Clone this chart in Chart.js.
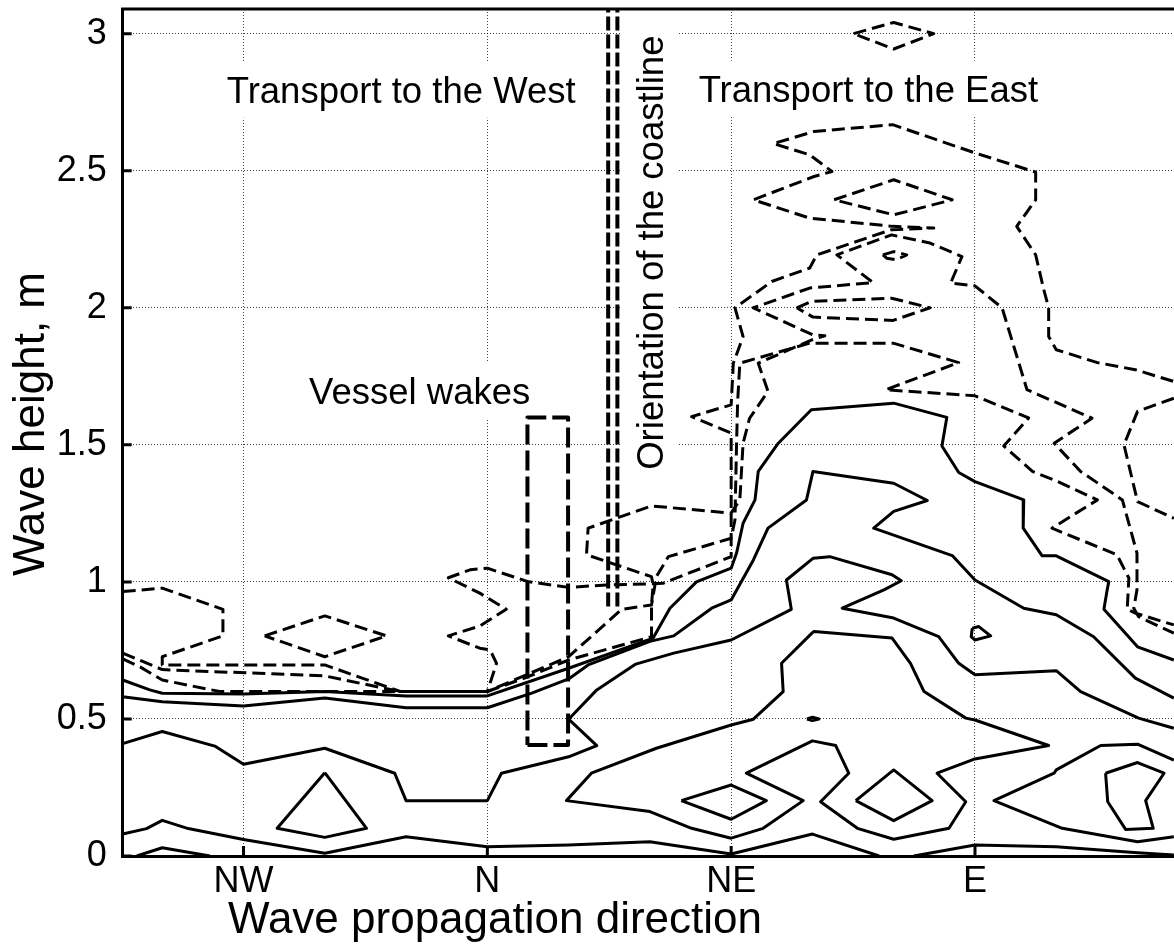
<!DOCTYPE html>
<html>
<head>
<meta charset="utf-8">
<title>Wave height vs propagation direction</title>
<script src="https://cdn.jsdelivr.net/npm/chart.js@4.4.1/dist/chart.umd.min.js"></script>
<style>
  html, body { margin: 0; padding: 0; background: #fff; overflow: hidden; }
  #wrap { position: absolute; left: 0; top: 0; width: 1240px; height: 945px; }
</style>
</head>
<body>
<div id="wrap"><canvas id="contours" width="1240" height="945"></canvas></div>
<script>
// Axes: direction in degrees (0 = N), wave height in metres
var xTickValues = [-45, 0, 45, 90];
var xTickLabels = ['NW', 'N', 'NE', 'E'];
var yTickValues = [0, 0.5, 1, 1.5, 2, 2.5, 3];
var yTickLabels = ['0', '0.5', '1', '1.5', '2', '2.5', '3'];

// Solid contours  [direction, height]
var solidBottomWest = [[-64.7, 0], [-60, 0.03], [-51.2, 0]];
var solidLowest = [[-67.3, 0.08], [-62.9, 0.10], [-60, 0.13], [-55.2, 0.10], [-45, 0.06], [-30, 0.01],
    [-15, 0.07], [0, 0.034], [15, 0.04], [30, 0.052], [45, 0.007], [60, 0.08], [72.3, 0]];
var solidLowestEast = [[78.7, 0], [90, 0.04], [105, 0.034], [120, 0.012], [126.7, 0.004]];
var solidSecond = [[-67.3, 0.41], [-60, 0.454], [-50.3, 0.401], [-45, 0.335], [-30, 0.393], [-17.1, 0.302],
    [-15, 0.202], [0, 0.202], [2.6, 0.302], [15, 0.362], [20.2, 0.403], [15, 0.499], [20.2, 0.606],
    [27.4, 0.70], [34.4, 0.74], [45, 0.788], [56.1, 0.90], [55.2, 1.007], [60.1, 1.086], [63.2, 1.092],
    [74.7, 1.026], [76.4, 1.004], [73.2, 0.971], [65.5, 0.904], [75, 0.868], [83.3, 0.80], [87, 0.703],
    [90, 0.661], [105, 0.676], [109.5, 0.60], [120.2, 0.503], [126.7, 0.466]];
var solidUpper = [[-67.3, 0.642], [-62.3, 0.606], [-60, 0.594], [-45, 0.591], [-30, 0.60], [-15, 0.584],
    [0, 0.584], [15, 0.685], [30.6, 0.795], [33.7, 0.904], [38.6, 1.0], [45, 1.05], [46, 1.105],
    [47.2, 1.214], [49.4, 1.299], [50, 1.403], [53.7, 1.506], [59.8, 1.628], [75, 1.652], [84.8, 1.600],
    [83.9, 1.496], [87, 1.399], [90, 1.366], [99, 1.299], [98.9, 1.196], [102.4, 1.095], [105, 1.095],
    [114.7, 1.001], [114.4, 0.971], [113.8, 0.90], [120, 0.763], [126.7, 0.715]];
var solidMiddle = [[-67.3, 0.581], [-60, 0.563], [-45, 0.547], [-30, 0.576], [-15, 0.541], [0, 0.541],
    [8.2, 0.594], [15, 0.646], [18.6, 0.697], [30, 0.783], [34.4, 0.803], [41.4, 0.904], [45, 0.934],
    [49.1, 1.080], [51.8, 1.196], [58.9, 1.299], [60.1, 1.403], [75, 1.360], [81.2, 1.297], [75, 1.257],
    [71.3, 1.196], [85.8, 1.096], [90, 1.007], [99, 0.904], [105, 0.880], [111.9, 0.800], [119.6, 0.649],
    [126.7, 0.576]];
var solidLoopNE = [[60, 0.815], [54.3, 0.703], [54.6, 0.60], [49.1, 0.499], [45, 0.478], [31.2, 0.393],
    [19.2, 0.302], [14.6, 0.202], [30, 0.162], [37.7, 0.101], [45, 0.065], [50.9, 0.101], [58.3, 0.202],
    [47.8, 0.302], [60, 0.420], [64.3, 0.403], [66.7, 0.302], [61.5, 0.198], [68.3, 0.101], [75, 0.061],
    [85.2, 0.101], [88.3, 0.198], [83, 0.302], [90, 0.354], [103.6, 0.403], [90, 0.496], [88.3, 0.503],
    [80.6, 0.60], [78.1, 0.703], [74.7, 0.795], [60.3, 0.819], [60, 0.815]];
var solidDiamondNE = [[35.8, 0.202], [45, 0.259], [51.5, 0.202], [45, 0.134], [35.8, 0.202]];
var solidDiamondENE = [[68, 0.202], [75, 0.314], [82.1, 0.202], [75, 0.129], [68, 0.202]];
var solidEastBand = [[126.7, 0.35], [120, 0.408], [113.2, 0.403], [105, 0.314], [104.6, 0.302], [93.5, 0.202],
    [106.1, 0.101], [120, 0.052], [126.7, 0.07]];
var solidEastLoop = [[114.1, 0.302], [120, 0.341], [124.9, 0.302], [121.5, 0.202], [122.9, 0.101],
    [117.8, 0.097], [114.5, 0.198], [114.1, 0.302]];
var solidSpeckE = [[89.5, 0.831], [90.7, 0.837], [92.9, 0.803], [90, 0.788], [89.3, 0.80], [89.5, 0.831]];
var solidSpeckNE = [[59, 0.5], [60, 0.506], [61.2, 0.5], [60, 0.494], [59, 0.5]];
var solidTriangleNW = [[-30, 0.304], [-38.8, 0.101], [-30, 0.068], [-22.3, 0.101], [-30, 0.304]];

// Dashed contours
var dashedOuter = [[-67.3, 0.965], [-60, 0.977], [-48.8, 0.90], [-48.8, 0.803], [-60, 0.727], [-60, 0.697],
    [-30, 0.697], [-16.1, 0.60], [0, 0.60], [7.5, 0.654], [15, 0.715], [30.3, 0.80], [30.3, 0.916],
    [30.6, 0.989], [30.3, 1.019], [18.3, 1.099], [18.6, 1.196], [30.3, 1.277], [45, 1.251], [46.6, 1.299],
    [47.2, 1.506], [48.4, 1.597], [51.8, 1.695], [50, 1.798], [59.9, 1.883], [62.3, 1.898], [60.1, 1.901],
    [49.1, 2.0], [59.5, 2.072], [71.2, 2.092], [64.5, 2.193], [74.6, 2.266], [81.7, 2.236], [87.6, 2.187],
    [85.5, 2.090], [90, 2.080], [95, 2.0], [99.6, 1.701], [111.6, 1.597], [104.6, 1.506], [109.5, 1.403],
    [117.2, 1.299], [119.9, 1.105], [119.9, 0.971], [119.3, 0.904], [120.2, 0.873], [126.7, 0.813]];
var dashedMiddle = [[-67.3, 0.74], [-60, 0.68], [-30, 0.657], [-16.1, 0.60], [0, 0.60], [15, 0.727],
    [24.8, 0.90], [30.3, 0.916], [31.2, 1.019], [33.4, 1.092], [45, 1.159], [45.7, 1.226], [46, 1.507],
    [46.2, 1.66], [46.6, 1.798], [59.5, 1.871], [74.9, 1.871], [87, 1.80], [73.5, 1.701], [90, 1.679],
    [99.9, 1.598], [95.3, 1.496], [100.6, 1.403], [104.6, 1.372], [112.6, 1.299], [104.2, 1.196],
    [116.2, 1.099], [118.4, 1.014], [118.1, 0.90], [119.6, 0.886], [126.7, 0.843]];
var dashedInner = [[-67.3, 0.719], [-64.1, 0.69], [-60, 0.642], [-49.4, 0.60], [0, 0.60], [1.7, 0.703],
    [0.5, 0.752], [-1.4, 0.758], [-7.2, 0.803], [-1.4, 0.839], [3.5, 0.90], [-1.4, 0.959], [-7.2, 1.015],
    [-3.2, 1.044], [0, 1.05], [7.5, 1.001], [15, 0.98], [22, 0.989], [30.3, 0.993], [32.4, 0.995],
    [45, 1.092], [45, 1.543], [37.7, 1.603], [45, 1.646], [45.4, 1.798], [47.2, 1.895], [45.7, 2.0],
    [52.5, 2.096], [59.5, 2.145], [60.8, 2.193], [74.6, 2.285], [82.4, 2.291], [74.8, 2.297], [59.5, 2.327],
    [49.1, 2.394], [60.3, 2.479], [63.6, 2.497], [59.5, 2.558], [52.8, 2.599], [60.3, 2.643], [74.8, 2.668],
    [90, 2.565], [101.2, 2.495], [101.2, 2.394], [97.7, 2.297], [101.2, 2.193], [102.7, 2.066],
    [103.6, 1.999], [103.6, 1.895], [105, 1.847], [112.6, 1.800], [119.6, 1.774], [126.7, 1.731]];
var dashedLoop2m = [[57.1, 2.0], [59.8, 2.023], [74.6, 2.035], [81.7, 2.0], [74.9, 1.954], [60.1, 1.966], [57.1, 2.0]];
var dashedDiamond3m = [[67.6, 3.0], [75, 3.041], [82.4, 3.0], [75, 2.944], [67.6, 3.0]];
var dashedDiamond24 = [[64, 2.394], [75, 2.467], [85.8, 2.394], [75, 2.339], [64, 2.394]];
var dashedSpeck22 = [[73, 2.193], [75, 2.205], [77.4, 2.193], [75.5, 2.175], [73.7, 2.181], [73, 2.193]];
var dashedEastEdge = [[126.7, 1.670], [120, 1.622], [117.5, 1.50], [120, 1.293], [126.7, 1.232]];
var dashedDiamondNW = [[-41.1, 0.803], [-30, 0.876], [-18.6, 0.803], [-30, 0.727], [-41.1, 0.803]];

// Marked areas
var vesselWakesBox = [[7.4, 0.405], [14.9, 0.405], [14.9, 1.60], [7.4, 1.60], [7.4, 0.405]];
var coastlineLeft = [[22.3, 0.91], [22.3, 3.09]];
var coastlineRight = [[24.0, 0.91], [24.0, 3.09]];

var notes = [
    { text: 'Transport to the West', x: -48.1, y: 2.748 },
    { text: 'Transport to the East', x: 39.0, y: 2.752 },
    { text: 'Vessel wakes', x: -32.9, y: 1.650 },
    { text: 'Orientation of the coastline', x: 32.4, y: 1.409, vertical: true }
];

var fontFamily = '"Liberation Sans", Arial, Helvetica, sans-serif';

function contour(points, dash, width) {
    return {
        data: points.map(function (p) { return { x: p[0], y: p[1] }; }),
        showLine: true,
        borderColor: '#000',
        borderWidth: width || 3,
        borderDash: dash || [],
        borderJoinStyle: 'round',
        pointRadius: 0,
        pointHoverRadius: 0,
        fill: false,
        tension: 0
    };
}

var contourDash = [13, 6];
var datasets = [
    solidBottomWest, solidLowest, solidLowestEast, solidSecond, solidUpper, solidMiddle,
    solidLoopNE, solidDiamondNE, solidDiamondENE, solidEastBand, solidEastLoop, solidSpeckE,
    solidSpeckNE, solidTriangleNW
].map(function (p) { return contour(p); });
[dashedOuter, dashedMiddle, dashedInner, dashedLoop2m, dashedDiamond3m, dashedDiamond24,
    dashedSpeck22, dashedEastEdge, dashedDiamondNW].forEach(function (p) {
    datasets.push(contour(p, contourDash, 3));
});
datasets.push(contour(vesselWakesBox, [20, 6], 4));
datasets.push(contour(coastlineLeft, [14, 4], 4));
datasets.push(contour(coastlineRight, [14, 4], 4));

// frame, inward ticks, annotations and axis titles
var paperFrame = {
    id: 'paperFrame',
    beforeDatasetsDraw: function (chart) {
        var ctx = chart.ctx, sx = chart.scales.x, sy = chart.scales.y;
        ctx.save();
        ctx.font = '36.5px ' + fontFamily;
        notes.forEach(function (n) {
            var w = ctx.measureText(n.text).width;
            ctx.save();
            ctx.translate(sx.getPixelForValue(n.x), sy.getPixelForValue(n.y));
            if (n.vertical) ctx.rotate(-Math.PI / 2);
            ctx.fillStyle = '#fff';
            ctx.fillRect(-8, -41, w + 16, 56);
            ctx.fillStyle = '#000';
            ctx.textAlign = 'left';
            ctx.textBaseline = 'alphabetic';
            ctx.fillText(n.text, 0, 0);
            ctx.restore();
        });
        ctx.restore();
    },
    afterDraw: function (chart) {
        var ctx = chart.ctx, a = chart.chartArea, sx = chart.scales.x, sy = chart.scales.y;
        ctx.save();
        ctx.strokeStyle = '#000';
        ctx.lineWidth = 3;
        ctx.beginPath();
        ctx.moveTo(a.left - 1.5, a.top);
        ctx.lineTo(a.right, a.top);
        ctx.moveTo(a.right, a.top);
        ctx.lineTo(a.right, a.bottom);
        xTickValues.forEach(function (v) {
            var px = sx.getPixelForValue(v);
            ctx.moveTo(px, a.bottom);
            ctx.lineTo(px, a.bottom - 10);
        });
        yTickValues.forEach(function (v) {
            var py = sy.getPixelForValue(v);
            ctx.moveTo(a.left, py);
            ctx.lineTo(a.left + 9, py);
        });
        ctx.stroke();

        ctx.fillStyle = '#000';
        ctx.font = '44px ' + fontFamily;
        ctx.textAlign = 'center';
        ctx.textBaseline = 'alphabetic';
        ctx.fillText('Wave propagation direction', 495, 933);
        ctx.translate(44, 424);
        ctx.rotate(-Math.PI / 2);
        ctx.fillText('Wave height, m', 0, 0);
        ctx.restore();
    }
};

window.onload = function () {
    Chart.defaults.font.family = fontFamily;
    Chart.defaults.color = '#000';
    var ctx = document.getElementById('contours').getContext('2d');
    new Chart(ctx, {
        type: 'scatter',
        data: { datasets: datasets },
        plugins: [paperFrame],
        options: {
            responsive: false,
            animation: false,
            events: [],
            layout: { padding: { top: 9, right: 21.2, bottom: 0, left: 0 } },
            plugins: { legend: { display: false }, tooltip: { enabled: false } },
            scales: {
                x: {
                    type: 'linear',
                    min: -67.3,
                    max: 135,
                    afterBuildTicks: function (s) {
                        s.ticks = xTickValues.map(function (v) { return { value: v }; });
                    },
                    afterFit: function (s) {
                        s.height = 89;
                        s.paddingLeft = 0;
                        s.paddingRight = 0;
                    },
                    ticks: {
                        autoSkip: false,
                        maxRotation: 0,
                        padding: 4,
                        font: { size: 36 },
                        callback: function (v) { return xTickLabels[xTickValues.indexOf(v)]; }
                    },
                    grid: { color: 'rgba(0,0,0,0.75)', lineWidth: 1, drawTicks: false },
                    border: { display: true, color: '#000', width: 3, dash: [1, 2] }
                },
                y: {
                    type: 'linear',
                    min: 0,
                    max: 3.09,
                    afterBuildTicks: function (s) {
                        s.ticks = yTickValues.map(function (v) { return { value: v }; });
                    },
                    afterFit: function (s) {
                        s.width = 122.7;
                        s.paddingTop = 0;
                        s.paddingBottom = 0;
                    },
                    ticks: {
                        autoSkip: false,
                        padding: 16,
                        font: { size: 36 },
                        callback: function (v) { return yTickLabels[yTickValues.indexOf(v)]; }
                    },
                    grid: { color: 'rgba(0,0,0,0.75)', lineWidth: 1, drawTicks: false },
                    border: { display: true, color: '#000', width: 3, dash: [1, 2] }
                }
            }
        }
    });
};
</script>
</body>
</html>
